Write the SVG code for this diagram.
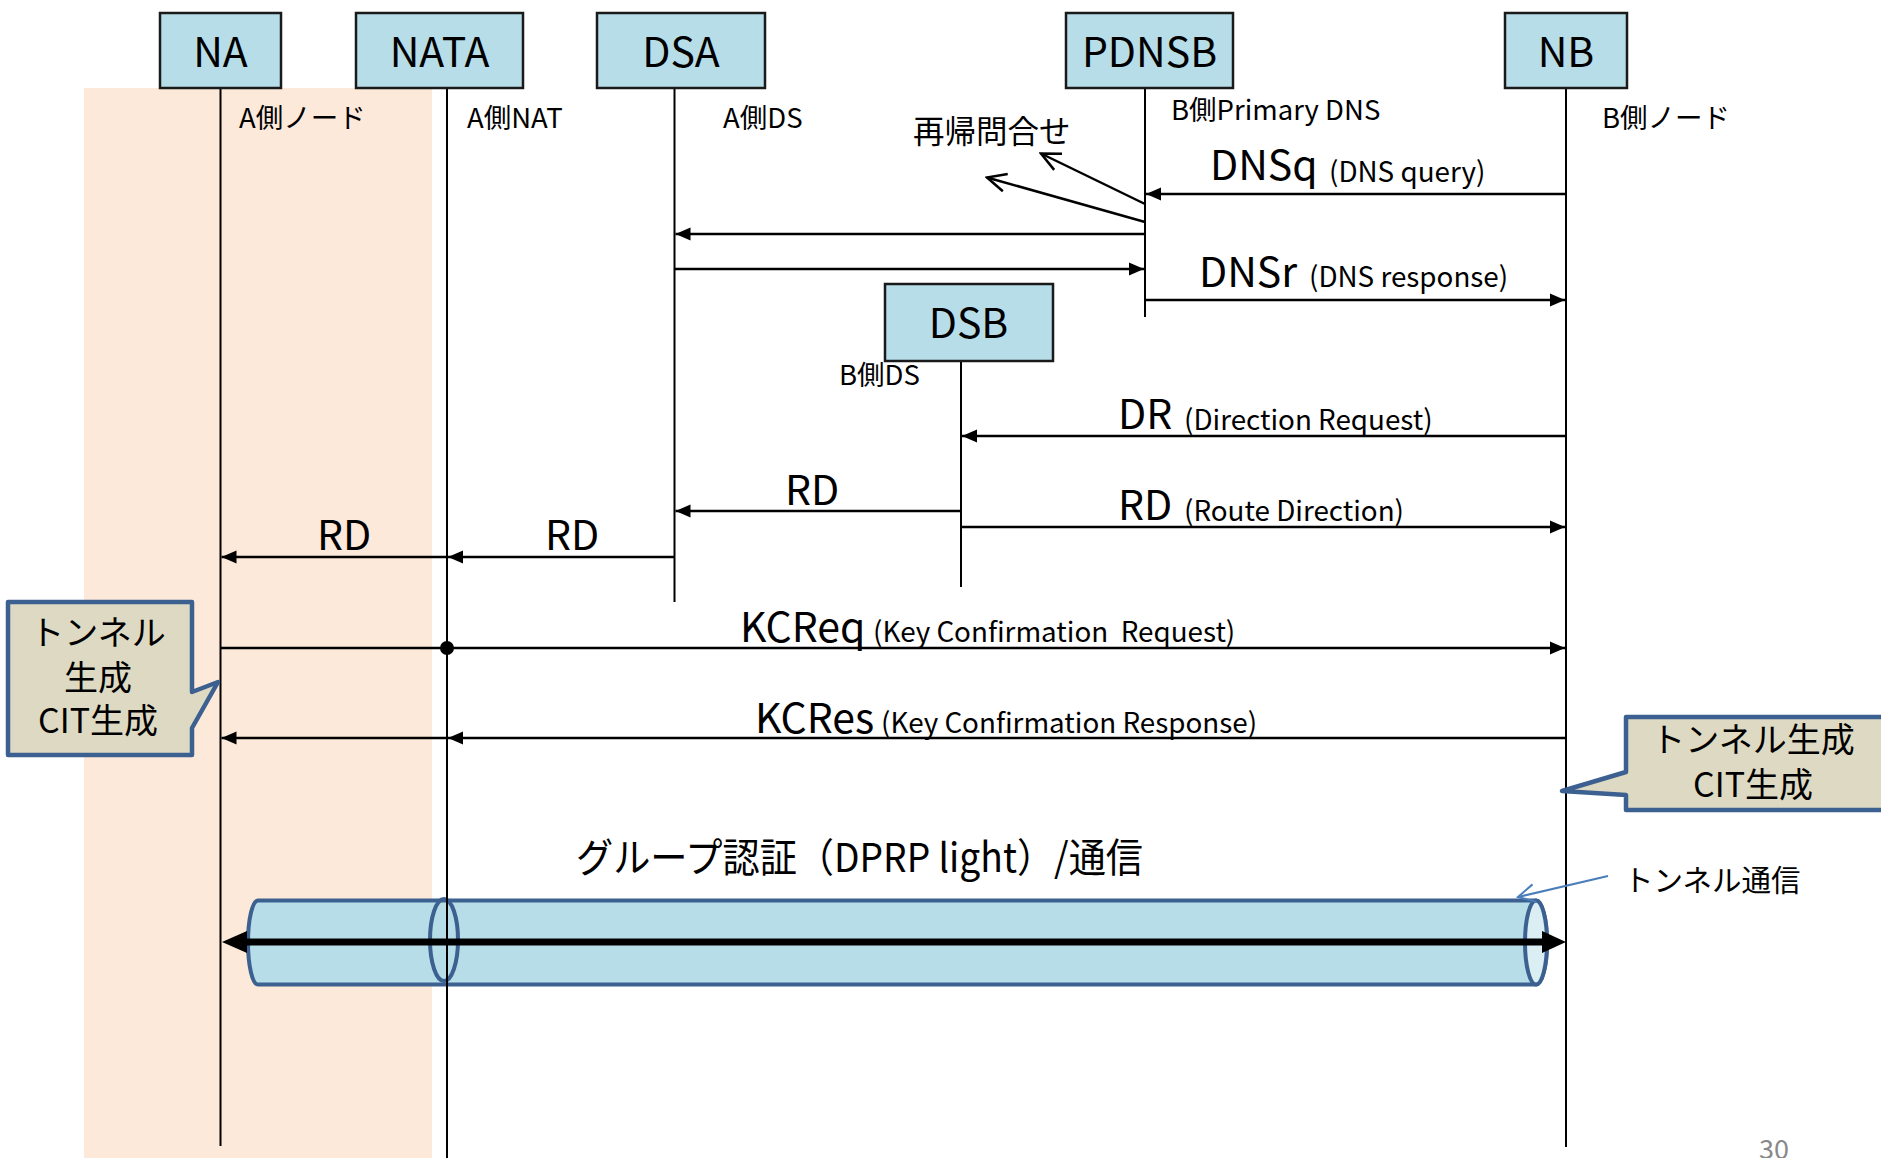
<svg xmlns="http://www.w3.org/2000/svg" width="1881" height="1158" viewBox="0 0 1881 1158">
<defs>
<style>
text{font-family:"Noto Sans CJK JP","Noto Sans",sans-serif;fill:#000}
.box{fill:#B7DEE8;stroke:#1a1a1a;stroke-width:2.5}
.bt{font-size:41px;text-anchor:middle}
.life{stroke:#000;stroke-width:2;fill:none}
.msg{stroke:#000;stroke-width:2.5;fill:none}
.big{font-size:41px}
.sm{font-size:27.8px}
.jp{font-size:27.5px}
.call{fill:#DDD9C3;stroke:#3C6190;stroke-width:4.5;stroke-linejoin:round}
.ct{font-size:34px;text-anchor:middle}
.tube{fill:#B7DEE8;stroke:#3C6190;stroke-width:4}
</style>
<marker id="ah" markerUnits="userSpaceOnUse" markerWidth="16" markerHeight="14" viewBox="-15 -7 16 14" refX="0" refY="0" orient="auto">
<path d="M-15,-6.5 L0,0 L-15,6.5 Z" fill="#000"/>
</marker>
<marker id="oh" markerUnits="userSpaceOnUse" markerWidth="24" markerHeight="24" viewBox="-22 -12 24 24" refX="0" refY="0" orient="auto">
<path d="M-19,-9 L0,0 L-19,9" fill="none" stroke="#000" stroke-width="2.5"/>
</marker>
<marker id="bh" markerUnits="userSpaceOnUse" markerWidth="24" markerHeight="24" viewBox="-22 -12 24 24" refX="0" refY="0" orient="auto">
<path d="M-17,-9 L0,0 L-17,9" fill="none" stroke="#4A7EBB" stroke-width="2"/>
</marker>
</defs>

<rect x="84" y="88" width="348" height="1070" fill="#FDE9D9"/>

<g id="tunnel">
<path class="tube" d="M258,900.5 L1536,900.5 A11,42 0 0 1 1536,984.5 L258,984.5 A10,42 0 0 1 258,900.5 Z"/>
<ellipse cx="1536" cy="942.5" rx="11" ry="42" fill="#DAEEF3" stroke="#3C6190" stroke-width="4"/>
<ellipse cx="444" cy="940" rx="14" ry="41" fill="none" stroke="#3C6190" stroke-width="4"/>
</g>

<g id="node-NA">
<line class="life" x1="220.5" y1="88" x2="220.5" y2="1146"/>
<rect class="box" x="160" y="13" width="121" height="75"/>
<text class="bt" x="220.5" y="67">NA</text>
<text class="jp" x="239" y="128">A側ノード</text>
</g>
<g id="node-NATA">
<line class="life" x1="447" y1="88" x2="447" y2="1158"/>
<rect class="box" x="356" y="13" width="167" height="75"/>
<text class="bt" x="439.5" y="67">NATA</text>
<text class="jp" x="467" y="128">A側NAT</text>
</g>
<g id="node-DSA">
<line class="life" x1="674.5" y1="88" x2="674.5" y2="602"/>
<rect class="box" x="597" y="13" width="168" height="75"/>
<text class="bt" x="681" y="67">DSA</text>
<text class="jp" x="723" y="128">A側DS</text>
</g>
<g id="node-PDNSB">
<line class="life" x1="1145" y1="88" x2="1145" y2="317"/>
<rect class="box" x="1066" y="13" width="167" height="75"/>
<text class="bt" x="1149.5" y="67">PDNSB</text>
<text class="jp" x="1171" y="120">B側Primary DNS</text>
</g>
<g id="node-NB">
<line class="life" x1="1566" y1="88" x2="1566" y2="1147"/>
<rect class="box" x="1505" y="13" width="122" height="75"/>
<text class="bt" x="1566" y="67">NB</text>
<text class="jp" x="1602" y="128">B側ノード</text>
</g>
<g id="node-DSB">
<line class="life" x1="961" y1="361" x2="961" y2="587"/>
<rect class="box" x="885" y="284" width="168" height="77"/>
<text class="bt" x="968.5" y="338">DSB</text>
<text class="jp" x="839" y="385">B側DS</text>
</g>

<g id="connectors">
<line class="msg" x1="1566" y1="194" x2="1146" y2="194" marker-end="url(#ah)"/>
<line class="msg" x1="1145" y1="204" x2="1041" y2="153.5" marker-end="url(#oh)"/>
<line class="msg" x1="1145" y1="222" x2="987" y2="177.5" marker-end="url(#oh)"/>
<line class="msg" x1="1144" y1="234" x2="675.5" y2="234" marker-end="url(#ah)"/>
<line class="msg" x1="675" y1="269" x2="1144" y2="269" marker-end="url(#ah)"/>
<line class="msg" x1="1145" y1="300" x2="1565" y2="300" marker-end="url(#ah)"/>
<line class="msg" x1="1566" y1="436" x2="962" y2="436" marker-end="url(#ah)"/>
<line class="msg" x1="961" y1="511" x2="675.5" y2="511" marker-end="url(#ah)"/>
<line class="msg" x1="961" y1="527" x2="1565" y2="527" marker-end="url(#ah)"/>
<line class="msg" x1="674.5" y1="557" x2="448" y2="557" marker-end="url(#ah)"/>
<line class="msg" x1="447" y1="557" x2="221.5" y2="557" marker-end="url(#ah)"/>
<line class="msg" x1="220.5" y1="648" x2="1565" y2="648" marker-end="url(#ah)"/>
<circle cx="447" cy="648" r="7" fill="#000"/>
<line class="msg" x1="1566" y1="738" x2="448" y2="738" marker-end="url(#ah)"/>
<line class="msg" x1="447" y1="738" x2="221.5" y2="738" marker-end="url(#ah)"/>
<line x1="1608" y1="876" x2="1518" y2="897" stroke="#4A7EBB" stroke-width="2" marker-end="url(#bh)"/>
<line x1="244" y1="942" x2="1545" y2="942" stroke="#000" stroke-width="7"/>
<path d="M222,942 L247,931 L247,953 Z" fill="#000"/>
<path d="M1566,942 L1542,931 L1542,953 Z" fill="#000"/>
</g>

<g id="labels">
<text x="913" y="143" style="font-size:31.5px">再帰問合せ</text>
<text class="big" x="1210" y="180">DNSq</text>
<text class="sm" x="1329" y="182">(DNS query)</text>
<text class="big" x="1199" y="287">DNSr</text>
<text class="sm" x="1309" y="287">(DNS response)</text>
<text class="big" x="1118" y="429">DR</text>
<text class="sm" x="1184" y="430">(Direction Request)</text>
<text class="big" x="785" y="505">RD</text>
<text class="big" x="1118" y="520">RD</text>
<text class="sm" x="1184" y="521">(Route Direction)</text>
<text class="big" x="545" y="550">RD</text>
<text class="big" x="317" y="550">RD</text>
<text class="big" x="740" y="642">KCReq</text>
<text class="sm" x="873" y="642" xml:space="preserve">(Key Confirmation  Request)</text>
<text class="big" x="755" y="733">KCRes</text>
<text class="sm" x="881" y="733">(Key Confirmation Response)</text>
<text x="576" y="872" style="font-size:40px" textLength="567" lengthAdjust="spacingAndGlyphs">グループ認証（DPRP light）/通信</text>
<text x="1624" y="891" style="font-size:29.5px">トンネル通信</text>
<text x="1759" y="1159" style="font-size:27px;fill:#898989">30</text>
</g>

<g id="callout-left">
<path class="call" d="M8,602 L192,602 L192,692 L218,682 L192,728 L192,755 L8,755 Z"/>
<text class="ct" x="98" y="645">トンネル</text>
<text class="ct" x="98" y="690">生成</text>
<text class="ct" x="98" y="733">CIT生成</text>
</g>
<g id="callout-right">
<path class="call" d="M1626,717 L1890,717 L1890,810 L1626,810 L1626,795 L1562,791 L1626,772 Z"/>
<text class="ct" x="1753" y="752">トンネル生成</text>
<text class="ct" x="1753" y="797">CIT生成</text>
</g>
</svg>
